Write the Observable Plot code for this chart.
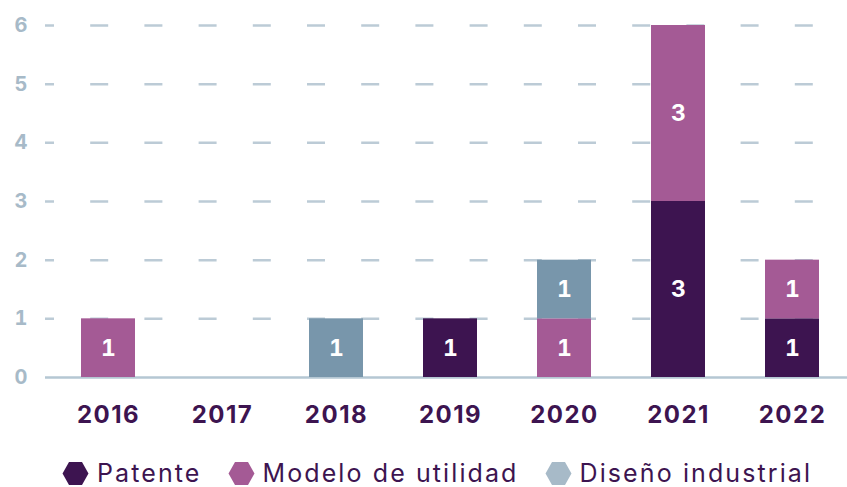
<!DOCTYPE html>
<html>
<head>
<meta charset="utf-8">
<script src="https://cdn.jsdelivr.net/npm/d3@7"></script>
<script src="https://cdn.jsdelivr.net/npm/@observablehq/plot@0.6"></script>
<style>
  html, body { margin: 0; padding: 0; background: #fff; }
  body { width: 847px; height: 487px; overflow: hidden; font-family: Inter, "Open Sans", sans-serif; }
  #chart svg { overflow: visible; display: block; }
  #chart g[aria-label="x-axis tick label"] text { letter-spacing: 1.5px; }
  #legend { display: flex; align-items: center; height: 40px; margin-top: 13px; padding-left: 62px; color: #3d1450; font-size: 25px; letter-spacing: 2.1px; font-weight: 400; }
  #legend .item { display: flex; align-items: center; margin-right: 26px; }
  #legend svg { margin-right: 8px; }
</style>
</head>
<body>
<div id="chart"></div>
<div id="legend"></div>
<script>
const years = ["2016", "2017", "2018", "2019", "2020", "2021", "2022"];
const seriesNames = ["Patente", "Modelo de utilidad", "Diseño industrial"];
const patente = [0, 0, 0, 1, 0, 3, 1];
const modelo = [1, 0, 0, 0, 1, 3, 1];
const diseno = [0, 0, 1, 0, 1, 0, 0];
const yTicks = [0, 1, 2, 3, 4, 5, 6];

const barColors = ["#3d1450", "#a45a95", "#7896ab"];
const swatchColors = ["#3d1450", "#a45a95", "#a7bac8"];

const seriesValues = [patente, modelo, diseno];
const rows = [];
years.forEach((yr, i) => {
  seriesValues.forEach((vals, s) => {
    if (vals[i] > 0) rows.push({year: yr, series: seriesNames[s], value: vals[i]});
  });
});

const chart = Plot.plot({
  width: 847,
  height: 440,
  marginLeft: 45,
  marginRight: 0,
  marginTop: 25,
  marginBottom: 63,
  style: {fontFamily: "Inter, 'Open Sans', sans-serif", background: "transparent", overflow: "visible"},
  x: {domain: years, paddingInner: 0.527, paddingOuter: 0.275, align: 0.557, label: null},
  y: {domain: [0, 6], label: null},
  color: {domain: seriesNames, range: barColors},
  marks: [
    Plot.ruleY(yTicks.filter(d => d > 0), {stroke: "#bccbd6", strokeWidth: 2.5, strokeDasharray: "18,36.2", strokeDashoffset: 9}),
    Plot.ruleY([0], {stroke: "#b5c7d3", strokeWidth: 2.5}),
    Plot.barY(rows, Plot.stackY({x: "year", y: "value", fill: "series", z: "series", order: seriesNames})),
    Plot.text(rows, Plot.stackY({x: "year", y: "value", z: "series", text: "value", fill: "white", fontSize: 23, fontWeight: 700, order: seriesNames})),
    Plot.axisY({ticks: yTicks, tickSize: 0, tickPadding: 18, fontSize: 20, fontWeight: 700, color: "#a7bac8", tickFormat: d => String(d)}),
    Plot.axisX({tickSize: 0, tickPadding: 28, fontSize: 24, fontWeight: 700, color: "#3d1450"})
  ]
});
document.getElementById("chart").appendChild(chart);

const legend = d3.select("#legend");
seriesNames.forEach((name, i) => {
  const item = legend.append("div").attr("class", "item");
  const svg = item.append("svg").attr("width", 27).attr("height", 25);
  svg.append("polygon")
    .attr("points", "7,1 20,1 26.5,12.5 20,24 7,24 0.5,12.5")
    .attr("fill", swatchColors[i]);
  item.append("span").text(name);
});
</script>
</body>
</html>
